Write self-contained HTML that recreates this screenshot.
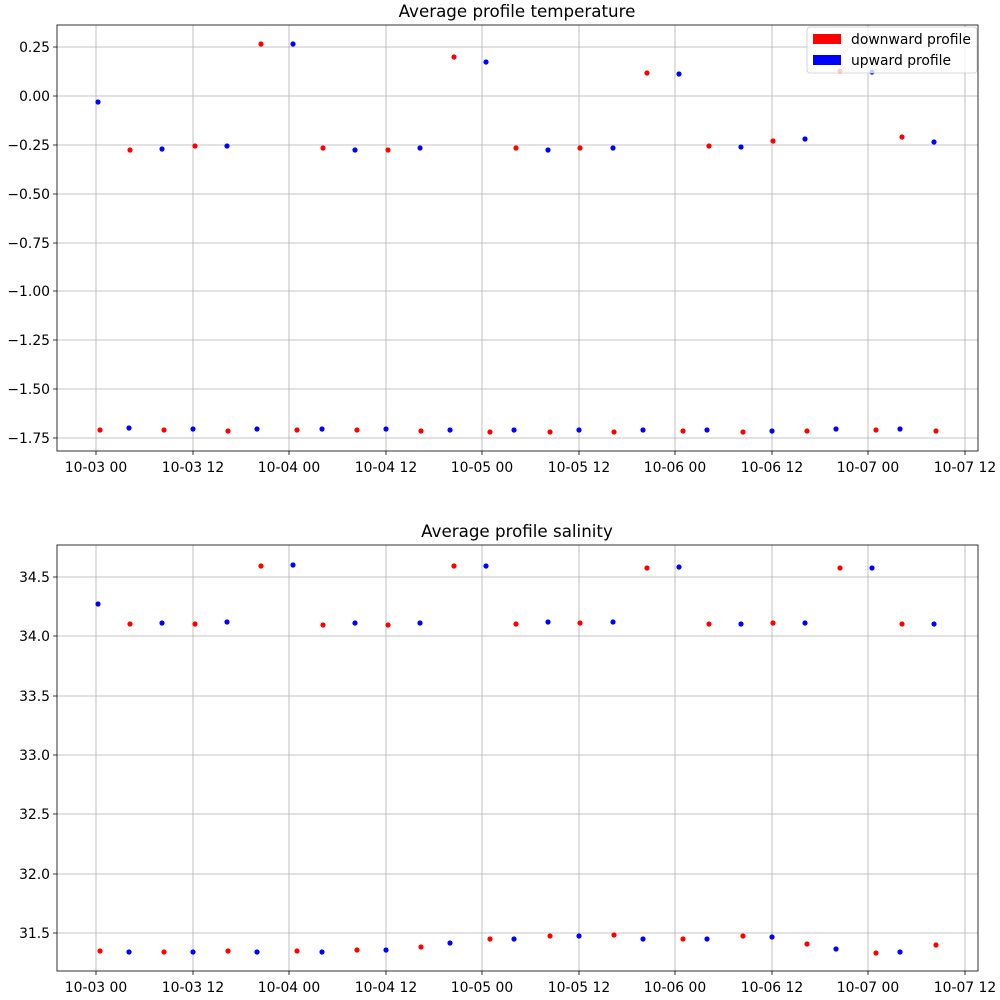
<!DOCTYPE html>
<html><head><meta charset="utf-8"><style>body{margin:0;background:#fff}svg{display:block;font-family:"DejaVu Sans","Liberation Sans",sans-serif}</style></head><body>
<svg width="1000" height="1000" viewBox="0 0 1000 1000" xmlns="http://www.w3.org/2000/svg">
<rect width="1000" height="1000" fill="#fff"/>
<g stroke="#b0b0b0" stroke-width="0.8">
<line x1="96" y1="25" x2="96" y2="451"/><line x1="193" y1="25" x2="193" y2="451"/><line x1="289" y1="25" x2="289" y2="451"/><line x1="386" y1="25" x2="386" y2="451"/><line x1="482" y1="25" x2="482" y2="451"/><line x1="579" y1="25" x2="579" y2="451"/><line x1="675" y1="25" x2="675" y2="451"/><line x1="772" y1="25" x2="772" y2="451"/><line x1="868" y1="25" x2="868" y2="451"/><line x1="965" y1="25" x2="965" y2="451"/>
<line x1="57" y1="47" x2="978" y2="47"/><line x1="57" y1="96" x2="978" y2="96"/><line x1="57" y1="145" x2="978" y2="145"/><line x1="57" y1="194" x2="978" y2="194"/><line x1="57" y1="243" x2="978" y2="243"/><line x1="57" y1="291" x2="978" y2="291"/><line x1="57" y1="340" x2="978" y2="340"/><line x1="57" y1="389" x2="978" y2="389"/><line x1="57" y1="438" x2="978" y2="438"/>
<line x1="96" y1="545" x2="96" y2="971"/><line x1="193" y1="545" x2="193" y2="971"/><line x1="289" y1="545" x2="289" y2="971"/><line x1="386" y1="545" x2="386" y2="971"/><line x1="482" y1="545" x2="482" y2="971"/><line x1="579" y1="545" x2="579" y2="971"/><line x1="675" y1="545" x2="675" y2="971"/><line x1="772" y1="545" x2="772" y2="971"/><line x1="868" y1="545" x2="868" y2="971"/><line x1="965" y1="545" x2="965" y2="971"/>
<line x1="57" y1="577" x2="978" y2="577"/><line x1="57" y1="636" x2="978" y2="636"/><line x1="57" y1="696" x2="978" y2="696"/><line x1="57" y1="755" x2="978" y2="755"/><line x1="57" y1="814" x2="978" y2="814"/><line x1="57" y1="874" x2="978" y2="874"/><line x1="57" y1="933" x2="978" y2="933"/>
</g>
<g fill="none" stroke="#000" stroke-width="0.8"><rect x="57" y="25" width="921" height="426"/><rect x="57" y="545" width="921" height="426"/></g>
<g stroke="#000" stroke-width="0.8">
<path d="M96 451v4M193 451v4M289 451v4M386 451v4M482 451v4M579 451v4M675 451v4M772 451v4M868 451v4M965 451v4M96 971v4M193 971v4M289 971v4M386 971v4M482 971v4M579 971v4M675 971v4M772 971v4M868 971v4M965 971v4"/>
<path d="M57 47h-4M57 96h-4M57 145h-4M57 194h-4M57 243h-4M57 291h-4M57 340h-4M57 389h-4M57 438h-4M57 577h-4M57 636h-4M57 696h-4M57 755h-4M57 814h-4M57 874h-4M57 933h-4"/>
</g>
<g font-size="13.9" fill="#000" text-anchor="middle">
<text x="96" y="472">10-03 00</text><text x="193" y="472">10-03 12</text><text x="289" y="472">10-04 00</text><text x="386" y="472">10-04 12</text><text x="482" y="472">10-05 00</text><text x="579" y="472">10-05 12</text><text x="675" y="472">10-06 00</text><text x="772" y="472">10-06 12</text><text x="868" y="472">10-07 00</text><text x="965" y="472">10-07 12</text>
<text x="96" y="992">10-03 00</text><text x="193" y="992">10-03 12</text><text x="289" y="992">10-04 00</text><text x="386" y="992">10-04 12</text><text x="482" y="992">10-05 00</text><text x="579" y="992">10-05 12</text><text x="675" y="992">10-06 00</text><text x="772" y="992">10-06 12</text><text x="868" y="992">10-07 00</text><text x="965" y="992">10-07 12</text>
</g>
<g font-size="13.9" fill="#000" text-anchor="end">
<text x="50" y="52">0.25</text><text x="50" y="101">0.00</text><text x="50" y="150">−0.25</text><text x="50" y="199">−0.50</text><text x="50" y="248">−0.75</text><text x="50" y="296">−1.00</text><text x="50" y="345">−1.25</text><text x="50" y="394">−1.50</text><text x="50" y="443">−1.75</text>
<text x="50" y="582">34.5</text><text x="50" y="641">34.0</text><text x="50" y="701">33.5</text><text x="50" y="760">33.0</text><text x="50" y="819">32.5</text><text x="50" y="879">32.0</text><text x="50" y="938">31.5</text>
</g>
<g font-size="16.7" fill="#000" text-anchor="middle"><text x="517" y="17">Average profile temperature</text><text x="517" y="537">Average profile salinity</text></g>
<g fill="#f00">
<circle cx="100" cy="430" r="2.6"/><circle cx="130" cy="150" r="2.6"/><circle cx="164" cy="430" r="2.6"/><circle cx="195" cy="146" r="2.6"/><circle cx="228" cy="431" r="2.6"/><circle cx="261" cy="44" r="2.6"/><circle cx="297" cy="430" r="2.6"/><circle cx="323" cy="148" r="2.6"/><circle cx="357" cy="430" r="2.6"/><circle cx="388" cy="150" r="2.6"/><circle cx="421" cy="431" r="2.6"/><circle cx="454" cy="57" r="2.6"/><circle cx="490" cy="432" r="2.6"/><circle cx="516" cy="148" r="2.6"/><circle cx="550" cy="432" r="2.6"/><circle cx="580" cy="148" r="2.6"/><circle cx="614" cy="432" r="2.6"/><circle cx="647" cy="73" r="2.6"/><circle cx="683" cy="431" r="2.6"/><circle cx="709" cy="146" r="2.6"/><circle cx="743" cy="432" r="2.6"/><circle cx="773" cy="141" r="2.6"/><circle cx="807" cy="431" r="2.6"/><circle cx="840" cy="71" r="2.6"/><circle cx="876" cy="430" r="2.6"/><circle cx="902" cy="137" r="2.6"/><circle cx="936" cy="431" r="2.6"/>
<circle cx="100" cy="951" r="2.6"/><circle cx="130" cy="624" r="2.6"/><circle cx="164" cy="952" r="2.6"/><circle cx="195" cy="624" r="2.6"/><circle cx="228" cy="951" r="2.6"/><circle cx="261" cy="566" r="2.6"/><circle cx="297" cy="951" r="2.6"/><circle cx="323" cy="625" r="2.6"/><circle cx="357" cy="950" r="2.6"/><circle cx="388" cy="625" r="2.6"/><circle cx="421" cy="947" r="2.6"/><circle cx="454" cy="566" r="2.6"/><circle cx="490" cy="939" r="2.6"/><circle cx="516" cy="624" r="2.6"/><circle cx="550" cy="936" r="2.6"/><circle cx="580" cy="623" r="2.6"/><circle cx="614" cy="935" r="2.6"/><circle cx="647" cy="568" r="2.6"/><circle cx="683" cy="939" r="2.6"/><circle cx="709" cy="624" r="2.6"/><circle cx="743" cy="936" r="2.6"/><circle cx="773" cy="623" r="2.6"/><circle cx="807" cy="944" r="2.6"/><circle cx="840" cy="568" r="2.6"/><circle cx="876" cy="953" r="2.6"/><circle cx="902" cy="624" r="2.6"/><circle cx="936" cy="945" r="2.6"/>
</g>
<g fill="#00f">
<circle cx="98" cy="102" r="2.6"/><circle cx="129" cy="428" r="2.6"/><circle cx="162" cy="149" r="2.6"/><circle cx="193" cy="429" r="2.6"/><circle cx="227" cy="146" r="2.6"/><circle cx="257" cy="429" r="2.6"/><circle cx="293" cy="44" r="2.6"/><circle cx="322" cy="429" r="2.6"/><circle cx="355" cy="150" r="2.6"/><circle cx="386" cy="429" r="2.6"/><circle cx="420" cy="148" r="2.6"/><circle cx="450" cy="430" r="2.6"/><circle cx="486" cy="62" r="2.6"/><circle cx="514" cy="430" r="2.6"/><circle cx="548" cy="150" r="2.6"/><circle cx="579" cy="430" r="2.6"/><circle cx="613" cy="148" r="2.6"/><circle cx="643" cy="430" r="2.6"/><circle cx="679" cy="74" r="2.6"/><circle cx="707" cy="430" r="2.6"/><circle cx="741" cy="147" r="2.6"/><circle cx="772" cy="431" r="2.6"/><circle cx="805" cy="139" r="2.6"/><circle cx="836" cy="429" r="2.6"/><circle cx="872" cy="72" r="2.6"/><circle cx="900" cy="429" r="2.6"/><circle cx="934" cy="142" r="2.6"/>
<circle cx="98" cy="604" r="2.6"/><circle cx="129" cy="952" r="2.6"/><circle cx="162" cy="623" r="2.6"/><circle cx="193" cy="952" r="2.6"/><circle cx="227" cy="622" r="2.6"/><circle cx="257" cy="952" r="2.6"/><circle cx="293" cy="565" r="2.6"/><circle cx="322" cy="952" r="2.6"/><circle cx="355" cy="623" r="2.6"/><circle cx="386" cy="950" r="2.6"/><circle cx="420" cy="623" r="2.6"/><circle cx="450" cy="943" r="2.6"/><circle cx="486" cy="566" r="2.6"/><circle cx="514" cy="939" r="2.6"/><circle cx="548" cy="622" r="2.6"/><circle cx="579" cy="936" r="2.6"/><circle cx="613" cy="622" r="2.6"/><circle cx="643" cy="939" r="2.6"/><circle cx="679" cy="567" r="2.6"/><circle cx="707" cy="939" r="2.6"/><circle cx="741" cy="624" r="2.6"/><circle cx="772" cy="937" r="2.6"/><circle cx="805" cy="623" r="2.6"/><circle cx="836" cy="949" r="2.6"/><circle cx="872" cy="568" r="2.6"/><circle cx="900" cy="952" r="2.6"/><circle cx="934" cy="624" r="2.6"/>
</g>
<rect x="807" y="27" width="170" height="46" rx="3" fill="#fff" fill-opacity="0.8" stroke="#ccc" stroke-width="0.8"/>
<rect x="813" y="34" width="28" height="10" fill="#f00"/>
<rect x="813" y="55" width="28" height="10" fill="#00f"/>
<g font-size="13.9" fill="#000"><text x="851" y="44">downward profile</text><text x="851" y="65">upward profile</text></g>
</svg>
</body></html>
